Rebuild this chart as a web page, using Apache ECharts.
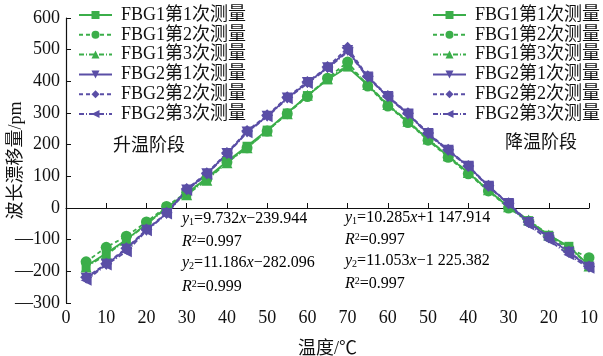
<!DOCTYPE html>
<html>
<head>
<meta charset="utf-8">
<script src="https://cdn.jsdelivr.net/npm/echarts@6/dist/echarts.min.js"></script>
<style>html,body{margin:0;padding:0;background:#fff}#c{width:603px;height:356px}</style>
</head>
<body>
<div id="c"></div>
<script>
// Temperatures (℃): heating 5→70, cooling 65→10
var heatTemps = [5,10,15,20,25,30,35,40,45,50,55,60,65,70];
var coolTemps = [65,60,55,50,45,40,35,30,25,20,15,10];
var xTickLabels = [0,10,20,30,40,50,60,70,60,50,40,30,20,10];

// Wavelength shift (pm)
var fbg1Run1Heat = [-184,-143,-100,-50,2,46,95,147,195,246,300,355,405,445];
var fbg1Run1Cool = [388,325,272,217,163,111,56,3,-40,-86,-121,-181];
var fbg1Run2Heat = [-170,-124,-89,-44,5,50,92,145,190,243,298,352,410,461];
var fbg1Run2Cool = [385,322,270,214,160,108,54,0,-42,-90,-128,-157];
var fbg1Run3Heat = [-186,-148,-102,-52,0,42,88,143,190,243,298,356,408,450];
var fbg1Run3Cool = [390,327,274,218,165,112,58,4,-38,-85,-124,-183];
var fbg2Run1Heat = [-222,-178,-130,-70,-17,57,108,172,240,290,347,396,443,497];
var fbg2Run1Cool = [414,352,297,235,182,132,69,14,-46,-94,-140,-187];
var fbg2Run2Heat = [-219,-176,-127,-68,-15,60,110,174,243,293,350,398,445,506];
var fbg2Run2Cool = [416,354,299,237,184,133,70,15,-44,-92,-138,-185];
var fbg2Run3Heat = [-228,-180,-138,-72,-19,55,106,170,238,288,345,393,441,493];
var fbg2Run3Cool = [412,350,296,233,180,130,67,12,-53,-101,-148,-190];

var seriesNames = ['FBG1第1次测量','FBG1第2次测量','FBG1第3次测量','FBG2第1次测量','FBG2第2次测量','FBG2第3次测量'];

var GREEN = '#3bae4a', PURPLE = '#5a4ea6';
var FONT = "'Liberation Serif','Noto Sans CJK SC',serif";

// heating temp T at position T; cooling temp T at position 140-T
function build(heat, cool) {
  var d = [];
  heatTemps.forEach(function (t, i) { d.push([t, heat[i]]); });
  coolTemps.forEach(function (t, i) { d.push([140 - t, cool[i]]); });
  return d;
}

var styles = [
  {c: GREEN, sym: 'rect', rot: 0, type: 'solid', size: 9, h: fbg1Run1Heat, k: fbg1Run1Cool},
  {c: GREEN, sym: 'circle', rot: 0, type: [4,3], size: 11, h: fbg1Run2Heat, k: fbg1Run2Cool},
  {c: GREEN, sym: 'triangle', rot: 0, type: [5,2,1,2], size: 11, h: fbg1Run3Heat, k: fbg1Run3Cool},
  {c: PURPLE, sym: 'triangle', rot: 180, type: 'solid', size: 11, h: fbg2Run1Heat, k: fbg2Run1Cool},
  {c: PURPLE, sym: 'diamond', rot: 0, type: [4,3], size: 12, h: fbg2Run2Heat, k: fbg2Run2Cool},
  {c: PURPLE, sym: 'triangle', rot: 90, type: [5,2,1,2], size: 11, h: fbg2Run3Heat, k: fbg2Run3Cool}
];

var series = styles.map(function (s, i) {
  return {
    name: seriesNames[i], type: 'line', data: build(s.h, s.k),
    symbol: s.sym, symbolRotate: s.rot, symbolSize: s.size,
    lineStyle: {color: s.c, width: 1.8, type: s.type},
    itemStyle: {color: s.c},
    animation: false
  };
});

function legendAt(left, top) {
  return {
    data: seriesNames, orient: 'vertical', left: left, top: top, padding: 0,
    itemWidth: 33, itemHeight: 10, itemGap: 1.8,
    textStyle: {fontFamily: FONT, fontSize: 18, color: '#111', lineHeight: 18, padding: [0,0,0,4]},
    selectedMode: false
  };
}

var eqRich = {
  i: {fontFamily: FONT, fontSize: 16, fontStyle: 'italic', color: '#111', lineHeight: 16},
  n: {fontFamily: FONT, fontSize: 16, color: '#111', lineHeight: 16},
  sub: {fontFamily: FONT, fontSize: 10, color: '#111', verticalAlign: 'bottom', lineHeight: 6},
  sup: {fontFamily: FONT, fontSize: 10, color: '#111', verticalAlign: 'top', lineHeight: 6}
};
function eq(x, y, txt) {
  return {type: 'text', left: x, top: y - 9, style: {text: txt, rich: eqRich}};
}

var chart = echarts.init(document.getElementById('c'), null, {renderer: 'canvas'});
chart.setOption({
  animation: false,
  grid: {left: 66, right: 14, top: 18, bottom: 53, containLabel: false, outerBoundsMode: 'none'},
  legend: [legendAt(78, 6), legendAt(432, 6)],
  xAxis: {
    type: 'value', min: 0, max: 130, interval: 10,
    name: '温度/℃', nameLocation: 'middle', nameGap: 37, nameMoveOverlap: false,
    nameTextStyle: {fontFamily: FONT, fontSize: 18, color: '#111'},
    axisLine: {lineStyle: {color: '#111', width: 1.2}},
    axisTick: {inside: true, length: 5, lineStyle: {color: '#111'}},
    axisLabel: {fontFamily: FONT, fontSize: 18, color: '#111', margin: 6,
      formatter: function (v) { return xTickLabels[Math.round(v / 10)]; }},
    splitLine: {show: false}
  },
  yAxis: {
    type: 'value', min: -300, max: 600, interval: 100,
    name: '波长漂移量/pm', nameLocation: 'middle', nameGap: 41, nameMoveOverlap: false,
    nameTextStyle: {fontFamily: FONT, fontSize: 18, color: '#111'},
    axisLine: {show: true, lineStyle: {color: '#111', width: 1.2}},
    axisTick: {show: true, inside: true, length: 5, lineStyle: {color: '#111'}},
    axisLabel: {fontFamily: FONT, fontSize: 18, color: '#111', margin: 6,
      formatter: function (v) { return v < 0 ? '\u2014' + (-v) : String(v); }},
    splitLine: {show: false}
  },
  graphic: [
    {type: 'text', left: 113, top: 135, style: {text: '升温阶段', font: "18px 'Noto Sans CJK SC'", fill: '#111'}},
    {type: 'text', left: 505, top: 132, style: {text: '降温阶段', font: "18px 'Noto Sans CJK SC'", fill: '#111'}},
    eq(182, 220, '{i|y}{sub|1}{n|=9.732}{i|x}{n|\u2212239.944}'),
    eq(182, 243, '{i|R}{sup|2}{n|=0.997}'),
    eq(182, 264, '{i|y}{sub|2}{n|=11.186}{i|x}{n|\u2212282.096}'),
    eq(182, 288, '{i|R}{sup|2}{n|=0.999}'),
    eq(345, 219, '{i|y}{sub|1}{n|=10.285}{i|x}{n|+1 147.914}'),
    eq(345, 241, '{i|R}{sup|2}{n|=0.997}'),
    eq(345, 262, '{i|y}{sub|2}{n|=11.053}{i|x}{n|\u22121 225.382}'),
    eq(345, 285, '{i|R}{sup|2}{n|=0.997}')
  ],
  series: series
});
</script>
</body>
</html>
